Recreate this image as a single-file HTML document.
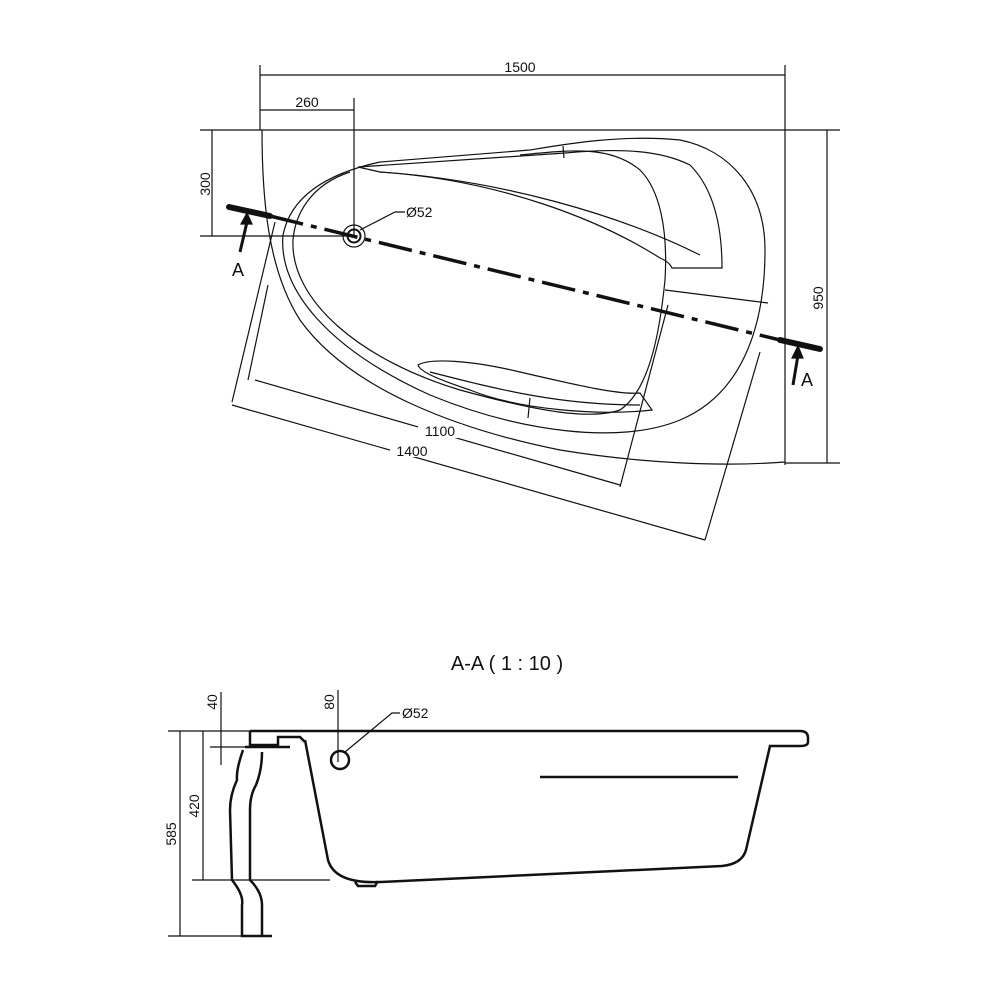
<!DOCTYPE html>
<html><head><meta charset="utf-8"><style>html,body{margin:0;padding:0;background:#fff}svg{display:block}</style></head>
<body>
<svg width="1000" height="1000" viewBox="0 0 1000 1000" xmlns="http://www.w3.org/2000/svg" font-family="Liberation Sans, sans-serif" fill="none" stroke="#111" stroke-width="1.2">
<!-- TOP VIEW dims -->
<line x1="260" y1="65" x2="260" y2="130"/><line x1="785" y1="65" x2="785" y2="465"/>
<line x1="260" y1="75" x2="785" y2="75"/>
<text x="520" y="72" font-size="14" fill="#111" stroke="none" text-anchor="middle">1500</text>
<line x1="260" y1="110" x2="354" y2="110"/><line x1="354" y1="98" x2="354" y2="236"/>
<text x="307" y="107" font-size="14" fill="#111" stroke="none" text-anchor="middle">260</text>
<line x1="200" y1="130" x2="840" y2="130"/>
<line x1="212" y1="130" x2="212" y2="236"/><line x1="200" y1="236" x2="350" y2="236"/>
<text transform="translate(210,184) rotate(-90)" font-size="14" fill="#111" stroke="none" text-anchor="middle">300</text>
<line x1="785" y1="463" x2="840" y2="463"/><line x1="827" y1="130" x2="827" y2="463"/>
<text transform="translate(823,298) rotate(-90)" font-size="14" fill="#111" stroke="none" text-anchor="middle">950</text>
<!-- outer shell -->
<path d="M262,130 C262,200 268,270 300,320 C350,390 460,430 560,450 C640,463 720,467 785,462"/>
<!-- rim oval -->
<path d="M380,162 C320,175 290,200 283,235 C278,290 330,350 430,395 C520,432 620,445 680,420 C740,395 765,330 765,250 C765,190 730,150 680,140 C620,134 560,145 530,150 L380,162"/>
<line x1="563" y1="146" x2="564" y2="158"/>
<!-- inner bath -->
<path d="M350,172 C310,185 295,215 293,240 C290,300 360,360 460,390 C540,412 590,420 620,410 C650,390 660,330 665,280 C668,230 660,190 640,170 C610,145 570,150 520,155"/>
<path d="M358,167 L380,172 C500,180 600,220 660,258 C670,262 672,268 672,268 L722,268 C722,230 715,190 690,165 C660,150 620,148 565,153 L358,167"/>
<path d="M380,172 C500,180 620,215 700,255"/>
<path d="M665,290 L768,303"/>
<!-- armrest -->
<path d="M418,365 C430,358 470,360 520,372 C580,386 620,395 640,393 L652,410 C600,416 520,410 470,390 C440,380 420,372 418,365 Z"/>
<path d="M430,372 C500,390 560,405 640,405"/>
<line x1="530" y1="398" x2="528" y2="418"/>
<!-- rotated rectangle -->
<line x1="275" y1="222" x2="232" y2="402"/><line x1="232" y1="405" x2="705" y2="540"/>
<line x1="705" y1="540" x2="760" y2="352"/>
<line x1="268" y1="285" x2="248" y2="380"/><line x1="255" y1="380" x2="620" y2="485"/>
<line x1="620" y1="487" x2="668" y2="305"/>
<rect x="418" y="424" width="44" height="14" fill="#fff" stroke="none"/>
<rect x="390" y="443" width="44" height="14" fill="#fff" stroke="none"/>
<text x="440" y="436" font-size="14" fill="#111" stroke="none" text-anchor="middle">1100</text>
<text x="412" y="456" font-size="14" fill="#111" stroke="none" text-anchor="middle">1400</text>
<!-- section line -->
<line x1="270" y1="216" x2="780" y2="340" stroke-width="3.5" stroke-dasharray="34,8,6,8"/>
<line x1="229" y1="207" x2="270" y2="216" stroke-width="6" stroke-linecap="round"/>
<line x1="780" y1="340" x2="820" y2="349" stroke-width="6" stroke-linecap="round"/>
<line x1="240" y1="252" x2="247" y2="222" stroke-width="3"/><path d="M241,224 L252,224 L247,213 Z" fill="#111"/>
<line x1="793" y1="385" x2="798" y2="355" stroke-width="3"/><path d="M792,358 L803,358 L798,346 Z" fill="#111"/>
<text x="238" y="276" font-size="18" fill="#111" stroke="none" text-anchor="middle">A</text>
<text x="807" y="386" font-size="18" fill="#111" stroke="none" text-anchor="middle">A</text>
<!-- drain -->
<circle cx="354" cy="236" r="11"/><circle cx="354" cy="236" r="6.5" stroke-width="2"/>
<path d="M360,230 L395,212 L405,212"/>
<text x="406" y="217" font-size="14" fill="#111" stroke="none">Ø52</text>
<!-- SECTION -->
<text x="507" y="670" font-size="20" fill="#111" stroke="none" text-anchor="middle">A-A  ( 1 : 10 )</text>
<line x1="168" y1="731" x2="250" y2="731"/>
<line x1="192" y1="880" x2="330" y2="880"/>
<line x1="168" y1="936" x2="245" y2="936"/>
<line x1="180" y1="731" x2="180" y2="936"/>
<text transform="translate(176,834) rotate(-90)" font-size="14" fill="#111" stroke="none" text-anchor="middle">585</text>
<line x1="203" y1="731" x2="203" y2="880"/>
<text transform="translate(199,806) rotate(-90)" font-size="14" fill="#111" stroke="none" text-anchor="middle">420</text>
<line x1="221" y1="692" x2="221" y2="765"/><line x1="210" y1="747" x2="270" y2="747"/>
<text transform="translate(217,702) rotate(-90)" font-size="14" fill="#111" stroke="none" text-anchor="middle">40</text>
<line x1="338" y1="690" x2="338" y2="762"/>
<text transform="translate(334,702) rotate(-90)" font-size="14" fill="#111" stroke="none" text-anchor="middle">80</text>
<g stroke-width="2.5">
<path d="M250,731 L800,731 Q808,731 808,738 L808,742 Q808,746 800,746 L770,746 L746,850 Q742,864 722,866 L380,882 Q335,884 328,860 L305,740"/>
<path d="M250,731 L250,745 L278,745 L278,737 L300,737 L305,742"/>
<path d="M245,747 L290,747"/>
<path d="M243,750 Q236,770 237,780 Q230,795 230,810 L232,880 Q244,895 242,905 L242,936 L272,936"/>
<path d="M262,752 Q262,770 256,785 Q250,795 250,810 L250,880 Q262,892 262,905 L262,936"/>
<line x1="540" y1="777" x2="738" y2="777"/>
<circle cx="340" cy="760" r="9"/>
<path d="M355,882 L358,886 L375,886 L378,881"/>
</g>
<path d="M345,752 L392,713 L400,713"/>
<text x="402" y="718" font-size="14" fill="#111" stroke="none">Ø52</text>
</svg>
</body></html>
